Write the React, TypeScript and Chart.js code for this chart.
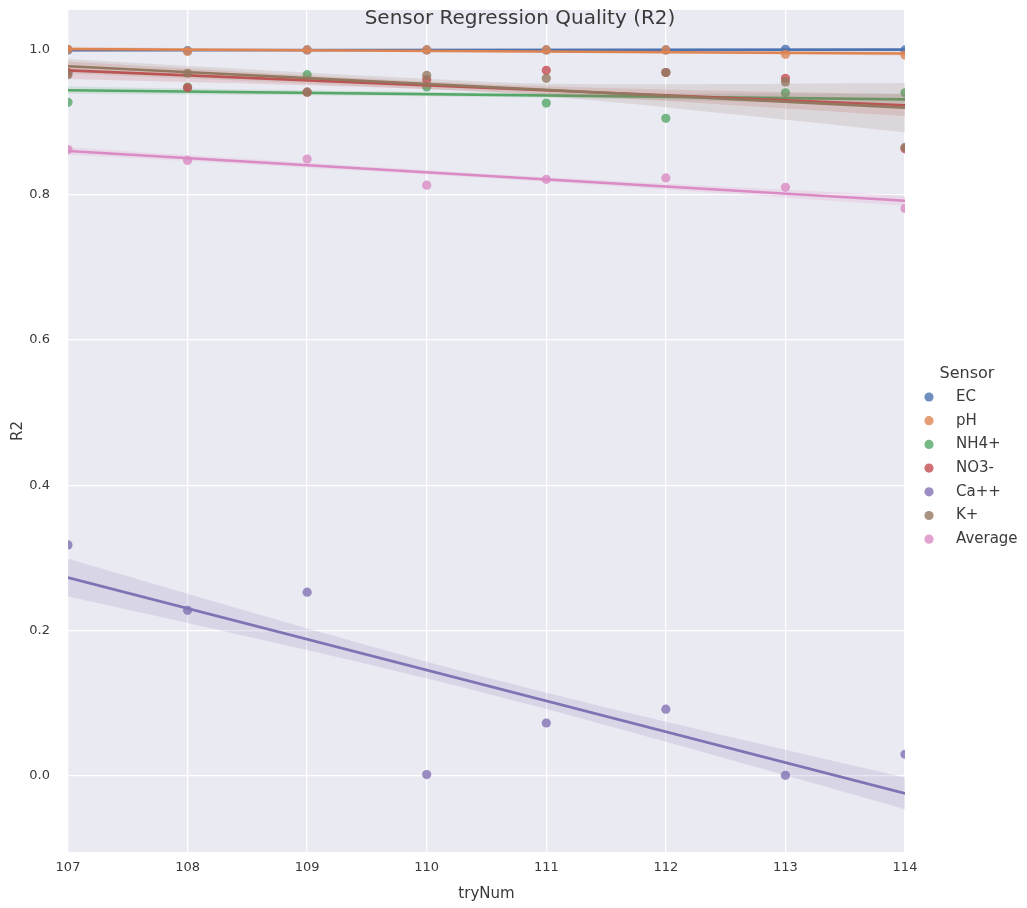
import React, { useEffect, useRef } from "react";
import { Chart, registerables } from "chart.js";

Chart.register(...registerables);

// ---------- data ----------
const tryNums = [107, 108, 109, 110, 111, 112, 113, 114];
const sensorNames = ["EC", "pH", "NH4+", "NO3-", "Ca++", "K+", "Average"];

const ecValues = [0.999, 0.998, 0.999, 0.999, 0.999, 0.999, 1.0, 0.999];
const phValues = [1.0, 0.997, 0.999, 0.999, 0.999, 0.999, 0.993, 0.992];
const nh4Values = [0.927, 0.948, 0.965, 0.948, 0.926, 0.905, 0.94, 0.94];
const no3Values = [0.968, 0.947, 0.941, 0.958, 0.971, 0.968, 0.96, 0.863];
const caValues = [0.318, 0.228, 0.253, 0.002, 0.073, 0.092, 0.001, 0.03];
const kValues = [0.965, 0.967, 0.941, 0.964, 0.96, 0.968, 0.955, 0.865];
const avgValues = [0.862, 0.847, 0.849, 0.813, 0.821, 0.823, 0.81, 0.781];

// confidence band half-widths at left end, middle, right end
const ciLeft = [0.002, 0.003, 0.005, 0.012, 0.026, 0.01, 0.005];
const ciMid = [0.001, 0.001, 0.003, 0.005, 0.011, 0.007, 0.003];
const ciRight = [0.002, 0.003, 0.008, 0.015, 0.022, 0.034, 0.007];

const seriesColors = ["#4c72b0", "#dd8452", "#55a868", "#c44e52", "#8172b3", "#937860", "#da8bc3"];

const yTickValues = [0.0, 0.2, 0.4, 0.6, 0.8, 1.0];
const yMin = -0.1045;
const yMax = 1.054;
const chartTitle = "Sensor Regression Quality (R2)";
const xTitle = "tryNum";
const yTitle = "R2";
const legendTitle = "Sensor";

const allValues = [ecValues, phValues, nh4Values, no3Values, caValues, kValues, avgValues];

// ---------- helpers ----------
function hexA(hex: string, a: number) {
  const r = parseInt(hex.slice(1, 3), 16);
  const g = parseInt(hex.slice(3, 5), 16);
  const b = parseInt(hex.slice(5, 7), 16);
  return `rgba(${r},${g},${b},${a})`;
}

function fit(xs: number[], ys: number[]) {
  const n = xs.length;
  const mx = xs.reduce((s, v) => s + v, 0) / n;
  const my = ys.reduce((s, v) => s + v, 0) / n;
  let sxy = 0, sxx = 0;
  for (let i = 0; i < n; i++) {
    sxy += (xs[i] - mx) * (ys[i] - my);
    sxx += (xs[i] - mx) * (xs[i] - mx);
  }
  const slope = sxy / sxx;
  return { slope, intercept: my - slope * mx, mx };
}

const FONT = "'DejaVu Sans', sans-serif";
const TEXT = "#3a3a3a";

export default function App() {
  const ref = useRef<HTMLCanvasElement | null>(null);

  useEffect(() => {
    if (!ref.current) return;
    const xMin = tryNums[0];
    const xMax = tryNums[tryNums.length - 1];
    const half = (xMax - xMin) / 2;
    const bandXs: number[] = [];
    for (let x = xMin; x <= xMax + 1e-9; x += 0.25) bandXs.push(x);

    const datasets: any[] = [];
    let drawIdx = 0;
    allValues.forEach((vals, si) => {
      const color = seriesColors[si];
      const f = fit(tryNums, vals);
      const line = (x: number) => f.intercept + f.slope * x;
      const hw = (x: number) => {
        const t = (x - f.mx) / half;
        const end = t < 0 ? ciLeft[si] : ciRight[si];
        const m = ciMid[si];
        return Math.sqrt(m * m + (end * end - m * m) * t * t);
      };
      datasets.push({
        type: "scatter",
        label: sensorNames[si],
        data: tryNums.map((x, i) => ({ x, y: vals[i] })),
        backgroundColor: hexA(color, 0.8),
        borderWidth: 0,
        pointRadius: 4.6,
        pointHoverRadius: 4.6,
        order: 1000 - drawIdx++,
      });
      datasets.push({
        type: "line",
        label: sensorNames[si] + " ci+",
        data: bandXs.map((x) => ({ x, y: line(x) + hw(x) })),
        borderWidth: 0,
        pointRadius: 0,
        fill: false,
        order: 1000 - drawIdx++,
      });
      datasets.push({
        type: "line",
        label: sensorNames[si] + " ci-",
        data: bandXs.map((x) => ({ x, y: line(x) - hw(x) })),
        borderWidth: 0,
        pointRadius: 0,
        fill: "-1",
        backgroundColor: hexA(color, 0.17),
        order: 1000 - drawIdx++,
      });
      datasets.push({
        type: "line",
        label: sensorNames[si] + " fit",
        data: [xMin, xMax].map((x) => ({ x, y: line(x) })),
        borderColor: color,
        borderWidth: 2.6,
        pointRadius: 0,
        fill: false,
        order: 1000 - drawIdx++,
      });
    });

    const bgPlugin = {
      id: "bg",
      beforeDraw(chart: any) {
        const { ctx, chartArea } = chart;
        ctx.save();
        ctx.fillStyle = "#eaeaf2";
        ctx.fillRect(chartArea.left, chartArea.top, chartArea.right - chartArea.left, chartArea.bottom - chartArea.top);
        ctx.restore();
      },
      afterDraw(chart: any) {
        const { ctx } = chart;
        ctx.save();
        ctx.fillStyle = TEXT;
        ctx.textAlign = "center";
        ctx.textBaseline = "middle";
        ctx.font = `20px ${FONT}`;
        ctx.fillText(chartTitle, 520, 19);
        ctx.font = `16px ${FONT}`;
        ctx.fillText(legendTitle, 967, 374);
        ctx.font = `15px ${FONT}`;
        ctx.textAlign = "left";
        sensorNames.forEach((name, i) => {
          const y = 397 + i * 23.7;
          ctx.beginPath();
          ctx.fillStyle = hexA(seriesColors[i], 0.8);
          ctx.arc(929, y, 4.6, 0, Math.PI * 2);
          ctx.fill();
          ctx.fillStyle = TEXT;
          ctx.fillText(name, 956, y);
        });
        ctx.restore();
      },
    };

    const chart = new Chart(ref.current, {
      type: "scatter",
      data: { datasets },
      plugins: [bgPlugin],
      options: {
        animation: false,
        responsive: false,
        devicePixelRatio: 1,
        layout: { padding: { top: 10, right: 122, left: 0, bottom: 0 } },
        plugins: { legend: { display: false }, tooltip: { enabled: false }, title: { display: false } },
        scales: {
          x: {
            type: "linear",
            min: xMin,
            max: xMax,
            afterBuildTicks: (s: any) => {
              s.ticks = tryNums.map((v) => ({ value: v }));
            },
            afterFit: (s: any) => {
              s.height = 56;
              s.paddingLeft = 0;
              s.paddingRight = 0;
            },
            ticks: {
              color: TEXT,
              font: { family: FONT, size: 13 },
              padding: 8,
              maxRotation: 0,
              callback: (v: any) => String(v),
            },
            grid: { color: "#ffffff", lineWidth: 1.3, drawTicks: false },
            border: { display: false },
            title: {
              display: true,
              text: xTitle,
              color: TEXT,
              font: { family: FONT, size: 15 },
              padding: { top: 5, bottom: 5 },
            },
          },
          y: {
            type: "linear",
            min: yMin,
            max: yMax,
            afterBuildTicks: (s: any) => {
              s.ticks = yTickValues.map((v) => ({ value: v }));
            },
            afterFit: (s: any) => {
              s.width = 68;
              s.paddingTop = 0;
              s.paddingBottom = 0;
            },
            ticks: {
              color: TEXT,
              font: { family: FONT, size: 13 },
              padding: 18,
              callback: (v: any) => Number(v).toFixed(1),
            },
            grid: { color: "#ffffff", lineWidth: 1.3, drawTicks: false },
            border: { display: false },
            title: {
              display: true,
              text: yTitle,
              color: TEXT,
              font: { family: FONT, size: 15 },
              padding: { top: 9, bottom: 9 },
            },
          },
        },
      },
    });
    return () => chart.destroy();
  }, []);

  return (
    <div style={{ position: "fixed", left: 0, top: 0, width: 1027, height: 908, background: "#ffffff" }}>
      <canvas ref={ref} width={1027} height={908} style={{ display: "block" }} />
    </div>
  );
}
